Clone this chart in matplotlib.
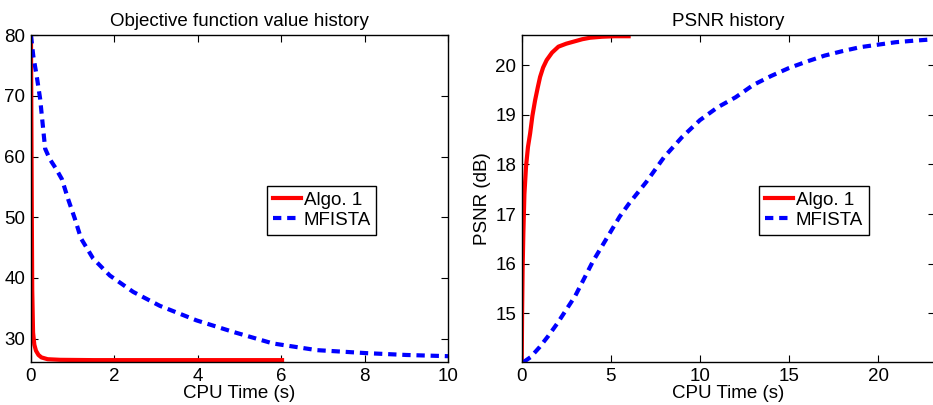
import matplotlib
matplotlib.use('Agg')
import matplotlib.pyplot as plt

plt.rcParams['font.family'] = ['Liberation Sans', 'DejaVu Sans']
plt.rcParams['font.size'] = 13.5

# 目标函数值历史
obj_algo_t = [0, 0.01, 0.02, 0.03, 0.05, 0.08, 0.12, 0.18, 0.25, 0.4, 0.7, 1.5, 3.0, 6.02]
obj_algo_v = [80, 65, 50, 38, 31, 29, 28, 27.3, 26.9, 26.6, 26.5, 26.45, 26.45, 26.45]
obj_mf_t = [0, 0.055, 0.137, 0.22, 0.34, 0.45, 0.6, 0.74, 0.89, 1.05, 1.2, 1.49, 1.89,
            2.45, 3.09, 3.97, 4.85, 5.8, 6.85, 8.05, 9.0, 10.0]
obj_mf_v = [80, 76.6, 73.3, 69.5, 61.3, 59.6, 58.0, 56.3, 53.0, 49.8, 46.5, 43.2, 40.4,
            37.7, 35.4, 33.0, 31.1, 29.2, 28.1, 27.6, 27.3, 27.1]

# PSNR 历史
psnr_algo_t = [0, 0.02, 0.05, 0.09, 0.15, 0.24, 0.35, 0.47, 0.6, 0.75, 0.9, 1.03, 1.2,
               1.4, 1.7, 2.06, 2.5, 2.9, 3.4, 3.84, 4.5, 5.2, 6.0]
psnr_algo_v = [14.02, 15.0, 15.9, 16.6, 17.4, 17.95, 18.35, 18.62, 18.98, 19.29, 19.55,
               19.76, 19.95, 20.1, 20.25, 20.37, 20.43, 20.47, 20.52, 20.55, 20.57, 20.58, 20.58]
psnr_mf_t = [0.1, 0.5, 1.0, 1.5, 2.0, 3.0, 4.0, 5.0, 5.5, 6.0, 7.0, 8.0, 9.0, 10.0, 11.0,
             12.0, 13.0, 14.0, 15.0, 16.0, 17.0, 18.0, 19.0, 20.0, 21.0, 22.0, 23.2]
psnr_mf_v = [14.02, 14.12, 14.32, 14.55, 14.8, 15.35, 16.05, 16.65, 16.95, 17.2, 17.65,
             18.15, 18.55, 18.89, 19.15, 19.35, 19.6, 19.78, 19.94, 20.07, 20.19, 20.28,
             20.36, 20.41, 20.46, 20.49, 20.52]

fig = plt.figure(figsize=(9.33, 4.05), dpi=100)
ax1 = fig.add_axes([0.0332, 0.106, 0.447, 0.807])
ax2 = fig.add_axes([0.5592, 0.106, 0.4430, 0.807])

lw = 3.0
dash = (2.0, 1.4)

ax1.plot(obj_algo_t, obj_algo_v, color='red', lw=lw, label='Algo. 1')
ax1.plot(obj_mf_t, obj_mf_v, color='blue', lw=lw, ls='--', dashes=dash, label='MFISTA')
ax1.set_xlim(0, 10)
ax1.set_ylim(26.13, 80)
ax1.set_yticks([30, 40, 50, 60, 70, 80])
ax1.set_xticks([0, 2, 4, 6, 8, 10])
ax1.set_title('Objective function value history', fontsize=13.5, pad=7)
ax1.set_xlabel('CPU Time (s)', labelpad=0)

ax2.plot(psnr_algo_t, psnr_algo_v, color='red', lw=lw, label='Algo. 1')
ax2.plot(psnr_mf_t, psnr_mf_v, color='blue', lw=lw, ls='--', dashes=dash, label='MFISTA')
ax2.set_xlim(0, 23.2)
ax2.set_ylim(14.02, 20.6)
ax2.set_yticks([15, 16, 17, 18, 19, 20])
ax2.set_xticks([0, 5, 10, 15, 20])
ax2.set_title('PSNR history', fontsize=13.5, pad=7)
ax2.set_xlabel('CPU Time (s)', labelpad=0)
ax2.set_ylabel('PSNR (dB)', labelpad=3)

for ax, x0 in ((ax1, 0.566), (ax2, 0.575)):
    ax.tick_params(direction='in', top=True, right=True, length=5, width=0.8,
                   labelsize=13.5, pad=4)
    for s in ax.spines.values():
        s.set_linewidth(1.0)
    leg = ax.legend(loc='upper left', bbox_to_anchor=(x0, 0.538), borderaxespad=0,
                    fancybox=False, framealpha=1, edgecolor='black', fontsize=13.5,
                    handlelength=1.5, handletextpad=0.15, labelspacing=0.15,
                    borderpad=0.3)
    leg.get_frame().set_linewidth(1.0)

fig.savefig('out.png', dpi=100)
